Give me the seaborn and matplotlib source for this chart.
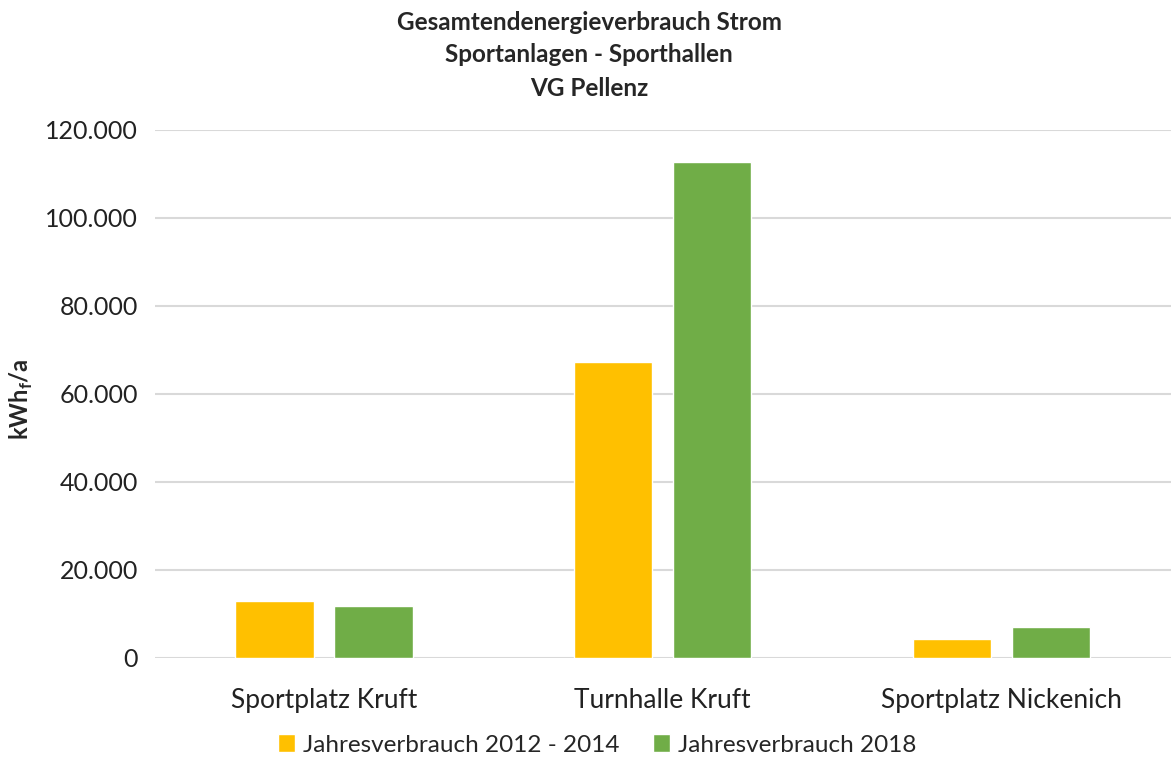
import numpy as np
import pandas as pd
import matplotlib
matplotlib.use("Agg")
import matplotlib.pyplot as plt
from matplotlib.ticker import FuncFormatter
from matplotlib.patches import Patch
import seaborn as sns

# Daten
standorte = ["Sportplatz Kruft", "Turnhalle Kruft", "Sportplatz Nickenich"]
serien = ["Jahresverbrauch 2012 - 2014", "Jahresverbrauch 2018"]
verbrauch_2012_2014 = [12900, 67300, 4200]
verbrauch_2018 = [11800, 112800, 7000]
farben = ["#FFC000", "#70AD47"]
titel = ["Gesamtendenergieverbrauch Strom", "Sportanlagen - Sporthallen", "VG Pellenz"]
y_ticks = [0, 20000, 40000, 60000, 80000, 100000, 120000]

df = pd.DataFrame({
    "Standort": standorte * 2,
    "Serie": [serien[0]] * 3 + [serien[1]] * 3,
    "kWh": verbrauch_2012_2014 + verbrauch_2018,
})

sns.set_theme(style="white")
plt.rcParams["font.family"] = ["Lato", "DejaVu Sans"]
plt.rcParams["mathtext.fontset"] = "custom"
plt.rcParams["mathtext.rm"] = "Lato:bold"

W, H = 1171, 758
fig = plt.figure(figsize=(W / 100, H / 100), dpi=100)
ax = fig.add_axes([0.132, 0.132, 0.868, 0.6965])

sns.barplot(data=df, x="Standort", y="kWh", hue="Serie", order=standorte,
            hue_order=serien, palette=farben, width=0.585, gap=0.21,
            saturation=1, ax=ax, legend=False)

ax.set_xlim(-0.5, 2.5)
ax.set_ylim(0, 120000)
ax.set_yticks(y_ticks)
ax.yaxis.set_major_formatter(FuncFormatter(lambda v, _: f"{int(v):,}".replace(",", ".")))
ax.grid(True, axis="y", color="#D9D9D9", lw=1.5)
ax.set_axisbelow(True)
for s in ax.spines.values():
    s.set_visible(False)
ax.tick_params(axis="y", length=0, pad=12, labelsize=18, labelcolor="#222222")
ax.tick_params(axis="x", length=0, pad=22, labelsize=19, labelcolor="#222222")
ax.set_xlabel("")
ax.set_ylabel(r"kWh$_\mathrm{f}$/a", fontsize=17, fontweight="bold")
ax.yaxis.set_label_coords(-0.118, 0.49)

# Titel, drei Zeilen
for zeile, y_px in zip(titel, [22, 55, 88]):
    fig.text(0.503, 1 - y_px / H, zeile, ha="center", va="center",
             fontsize=17.5, fontweight="bold")

handles = [Patch(facecolor=c, label=l) for c, l in zip(farben, serien)]
fig.legend(handles=handles, loc="center", bbox_to_anchor=(0.510, 1 - 745 / H), ncol=2,
           frameon=False, fontsize=17.5, handlelength=0.7, handleheight=0.7,
           handletextpad=0.3, columnspacing=1.4)

fig.savefig("out.png", dpi=100)
